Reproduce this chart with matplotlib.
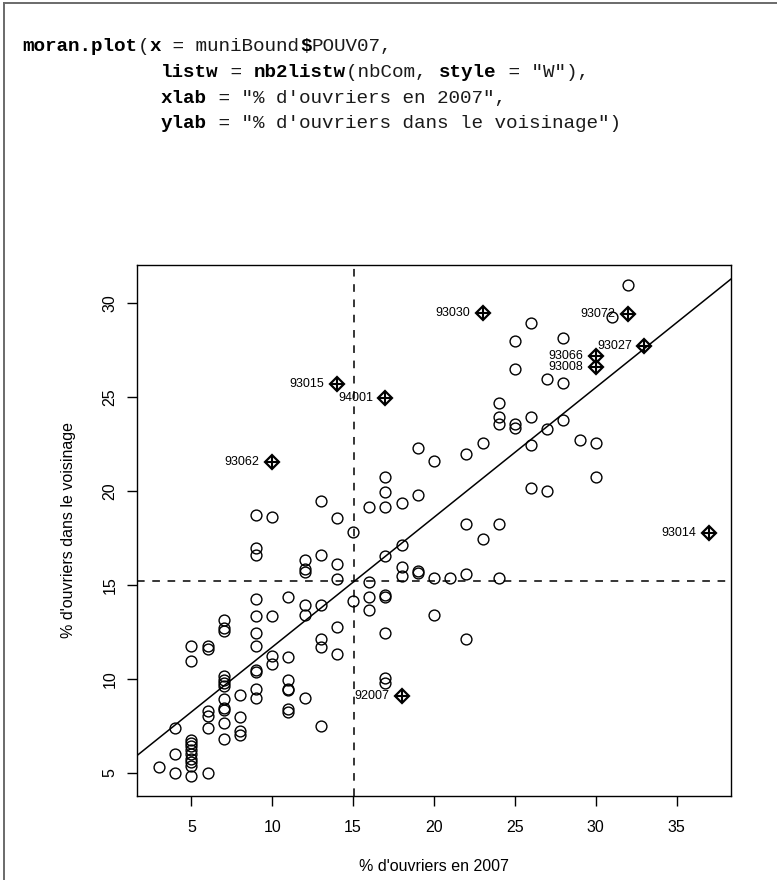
import numpy as np
import matplotlib
matplotlib.use("Agg")
import matplotlib.pyplot as plt
from matplotlib.lines import Line2D

# --- data -------------------------------------------------------------
# % of manual workers per commune in 2007 and the spatially lagged value
pouv07 = (
    [3]
    + [4] * 3
    + [5] * 11
    + [6] * 6
    + [7] * 12
    + [8] * 4
    + [9] * 11
    + [10] * 4
    + [11] * 7
    + [12] * 6
    + [13] * 6
    + [14] * 5
    + [15] * 2
    + [16] * 4
    + [17] * 9
    + [18] * 4
    + [19] * 4
    + [20] * 3
    + [21]
    + [22] * 4
    + [23] * 2
    + [24] * 5
    + [25] * 4
    + [26] * 4
    + [27] * 3
    + [28] * 3
    + [29]
    + [30] * 2
    + [31]
    + [32]
)
lag_pouv07 = [
    5.28,
    7.40, 5.98, 4.98,
    11.72, 10.96, 6.75, 6.60, 6.40, 6.20, 6.00, 5.75, 5.55, 5.35, 4.80,
    11.72, 11.56, 8.28, 8.00, 7.40, 4.98,
    13.14, 12.70, 12.57, 10.16, 9.95, 9.77, 9.59, 8.92, 8.44, 8.35, 7.64, 6.79,
    9.15, 7.97, 7.20, 7.00,
    18.72, 16.95, 16.60, 14.24, 13.37, 12.46, 11.77, 10.45, 10.35, 9.47, 8.97,
    18.63, 13.37, 11.22, 10.78,
    14.38, 11.15, 9.95, 9.47, 9.38, 8.39, 8.21,
    16.33, 15.83, 15.71, 13.94, 13.40, 8.97,
    19.45, 16.60, 13.95, 12.11, 11.67, 7.46,
    18.59, 16.11, 15.30, 12.74, 11.31,
    17.84, 14.13,
    19.13, 15.18, 14.38, 13.65,
    20.76, 19.96, 19.13, 16.54, 14.47, 14.33, 12.46, 10.04, 9.80,
    19.35, 17.15, 15.97, 15.48,
    22.27, 19.81, 15.74, 15.66,
    21.60, 15.35, 13.40,
    15.35,
    21.97, 18.23, 15.60, 12.11,
    22.54, 17.46,
    24.72, 23.97, 23.57, 18.27, 15.35,
    27.98, 26.48, 23.55, 23.35,
    28.97, 23.97, 22.48, 20.18,
    25.98, 23.30, 20.00,
    28.18, 25.76, 23.81,
    22.71,
    22.58, 20.73,
    29.30,
    31.00,
]

# influential communes (INSEE codes)
infl_codes = ["93062", "93015", "94001", "92007", "93030",
              "93066", "93008", "93072", "93027", "93014"]
infl_x = [10, 14, 17, 18, 23, 30, 30, 32, 33, 37]
infl_lag = [21.56, 25.73, 24.98, 9.10, 29.48, 27.20, 26.63, 29.45, 27.73, 17.78]

x_ticks = [5, 10, 15, 20, 25, 30, 35]
y_ticks = [5, 10, 15, 20, 25, 30]

# --- figure -----------------------------------------------------------
W, H, DPI = 777, 880, 100
fig = plt.figure(figsize=(W / DPI, H / DPI), dpi=DPI)
fig.patch.set_facecolor("white")


def fx(px):
    return px / W


def fy(py):
    return 1 - py / H


# frame of the slide box
fig.add_artist(Line2D([fx(4), fx(4)], [fy(3), fy(H + 5)], color="#6a6a6a", lw=1.4))
fig.add_artist(Line2D([fx(4), fx(W + 5)], [fy(3), fy(3)], color="#6a6a6a", lw=1.4))

# R call printed above the plot (monospace, keywords in bold)
code_lines = [
    [("moran.plot", True), ("(", False), ("x", True), (" = muniBound", False),
     ("$", True), ("POUV07,", False)],
    [(" " * 12, False), ("listw", True), (" = ", False), ("nb2listw", True),
     ("(nbCom, ", False), ("style", True), (' = "W"),', False)],
    [(" " * 12, False), ("xlab", True), (' = "% d\'ouvriers en 2007",', False)],
    [(" " * 12, False), ("ylab", True),
     (' = "% d\'ouvriers dans le voisinage")', False)],
]
code_fs = 13.9
char_w = 0.6 * code_fs * DPI / 72
x0 = 22
baselines = [51, 77, 103, 128]
for segs, base in zip(code_lines, baselines):
    col = 0
    for txt, bold in segs:
        if txt.strip():
            fig.text(fx(x0 + col * char_w), fy(base), txt,
                     family="Liberation Mono",
                     weight="bold" if bold else "normal",
                     fontsize=code_fs, color="black" if bold else "#1a1a1a",
                     ha="left", va="baseline")
        col += len(txt)

# --- scatter plot -----------------------------------------------------
ax = fig.add_axes([fx(137), fy(796), fx(731) - fx(137), fy(265) - fy(796)])

all_x = np.array(pouv07 + infl_x, dtype=float)
all_y = np.array(lag_pouv07 + infl_lag, dtype=float)

ax.plot(pouv07, lag_pouv07, linestyle="none", marker="o", markersize=7.8,
        markerfacecolor="none", markeredgecolor="black", markeredgewidth=1.0)
ax.plot(infl_x, infl_lag, linestyle="none", marker="D", markersize=7.0,
        markerfacecolor="none", markeredgecolor="black", markeredgewidth=1.6)
ax.plot(infl_x, infl_lag, linestyle="none", marker="+", markersize=10.0,
        markeredgecolor="black", markeredgewidth=1.5)
for code, xv, yv in zip(infl_codes, infl_x, infl_lag):
    ax.annotate(code, (xv, yv), xytext=(-9, 0), textcoords="offset points",
                ha="right", va="center", fontsize=9,
                family="Liberation Sans", color="black")

# regression line of the lag on the variable, and the two means
slope, intercept = np.polyfit(all_x, all_y, 1)
ax.axline((0, intercept), slope=slope, color="black", lw=1.1)
ax.axvline(all_x.mean(), color="black", lw=1.1, dashes=(5, 5))
ax.axhline(all_y.mean(), color="black", lw=1.1, dashes=(5, 5))

# R-style axis ranges (4 % padding)
xr = all_x.max() - all_x.min()
yr = all_y.max() - all_y.min()
ax.set_xlim(all_x.min() - 0.04 * xr, all_x.max() + 0.04 * xr)
ax.set_ylim(all_y.min() - 0.04 * yr, all_y.max() + 0.04 * yr)

ax.set_xticks(x_ticks)
ax.set_yticks(y_ticks)
ax.set_xticklabels([str(t) for t in x_ticks], family="Liberation Sans", fontsize=11.5)
ax.set_yticklabels([str(t) for t in y_ticks], family="Liberation Sans", fontsize=11.5,
                   rotation=90, va="center")
ax.tick_params(direction="out", length=7, width=1.0, color="black")
ax.tick_params(axis="x", pad=10)
ax.tick_params(axis="y", pad=7)
for sp in ax.spines.values():
    sp.set_linewidth(1.0)
    sp.set_color("black")

fig.text(fx((137 + 731) / 2), fy(866), "% d'ouvriers en 2007",
         family="Liberation Sans", fontsize=11.5, ha="center", va="center")
fig.text(fx(68), fy((265 + 796) / 2), "% d'ouvriers dans le voisinage",
         family="Liberation Sans", fontsize=11.5, ha="center", va="center",
         rotation=90)

fig.savefig("out.png", dpi=DPI, facecolor="white")
